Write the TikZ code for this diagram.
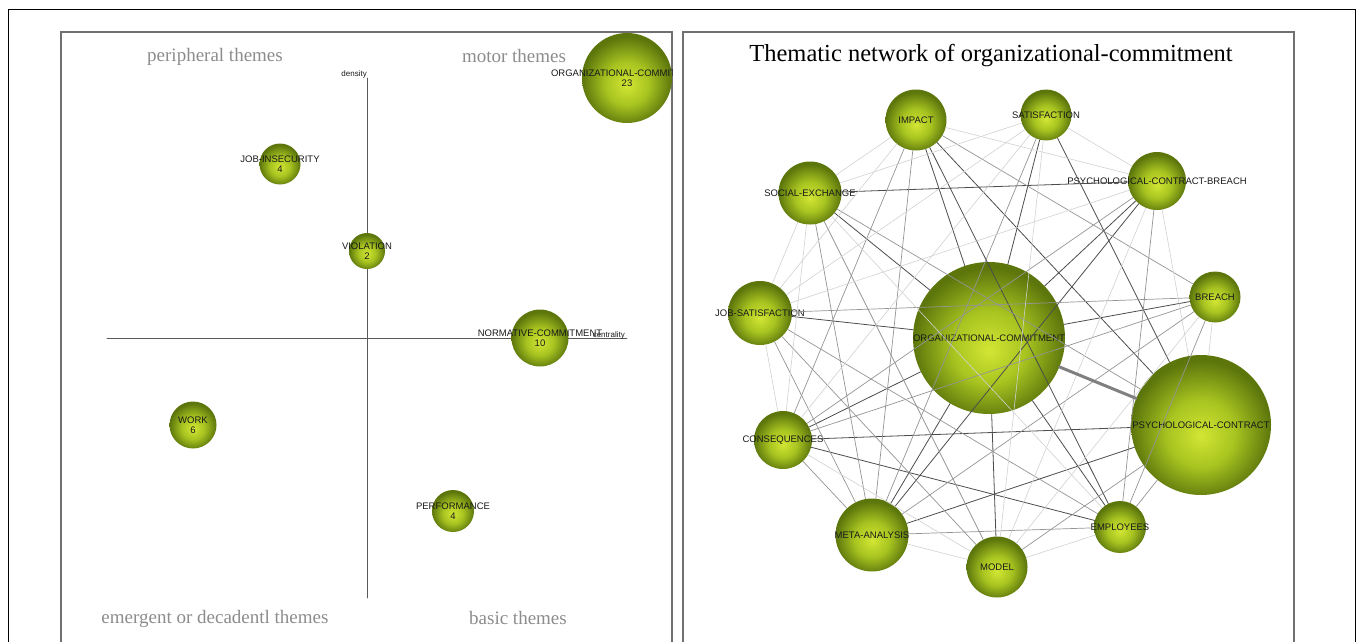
\documentclass[tikz,border=0pt]{standalone}
\usepackage{fontspec}
\setmainfont{Liberation Serif}
\setsansfont{Liberation Sans}
\usepackage{xcolor}
\usetikzlibrary{calc}
\definecolor{bubin}{RGB}{210,230,52}
\definecolor{bubmid}{RGB}{168,196,32}
\definecolor{bubout}{RGB}{92,118,12}
\definecolor{framegray}{RGB}{112,112,112}
\definecolor{themegray}{RGB}{140,140,140}
\pgfdeclareradialshading{bubble}{\pgfpoint{0bp}{-4bp}}{color(0bp)=(bubin); color(12bp)=(bubmid); color(25bp)=(bubout); color(50bp)=(bubout)}

\begin{document}
\begin{tikzpicture}[x=1pt,y=-1pt,line cap=round,
  bubble/.style={circle,draw=none,inner sep=0pt,shading=bubble,minimum size=#1pt},
  lbl/.style={font=\sffamily\fontsize{9.5}{10.5}\selectfont,text=black!90,align=center,inner sep=0pt},
  theme/.style={font=\fontsize{19}{20}\selectfont,text=themegray},
  panel/.style={draw=framegray,line width=1.4pt},
  axis/.style={draw=black!65,line width=0.9pt},
  darkedge/.style={draw=black!70,line width=0.8pt},
  midedge/.style={draw=black!42,line width=0.7pt},
  lightedge/.style={draw=black!18,line width=0.6pt},
  heavyedge/.style={draw=black!50,line width=3pt}]
\useasboundingbox (0,0) rectangle (1357,642);
\clip (0,0) rectangle (1357,642);
        % outer frame and the two panels
        \draw[black,line width=1pt] (8,660) -- (8,10) -- (1355,10) -- (1355,660);
        \draw[panel] (61,660) -- (61,32) -- (672,32) -- (672,660);
        \draw[panel] (683,660) -- (683,32) -- (1294,32) -- (1294,660);

% strategic diagram (left panel)
\begin{scope}
        \clip (61,32) rectangle (672,660);
        % quadrant names
        \node[theme] (periph) at (215,57) {peripheral themes};
        \node[theme] (motor) at (514,56) {motor themes};
        \node[theme] (emerg) at (215,619) {emergent or decadentl themes};
        \node[theme] (basic) at (518,618) {basic themes};
        % the two axes
        \coordinate (dtop) at (367,78);
        \coordinate (dbot) at (367,598);
        \coordinate (cleft) at (107,338);
        \coordinate (cright) at (627,338);
        \draw[axis] (dtop) -- (dbot);
        \draw[axis] (cleft) -- (cright);
        \node[lbl,anchor=south east,font=\sffamily\fontsize{8}{9}\selectfont] (dens) at (dtop) {density};
        \node[lbl,anchor=south east,font=\sffamily\fontsize{8}{9}\selectfont] (centr) at (625,339) {centrality};
        % themes with their number of documents
        \foreach \name/\x/\y/\d/\txt/\n in {
            qorg/627/78/90/ORGANIZATIONAL-COMMITMENT/23,
            qjob/280/164/41/JOB-INSECURITY/4,
            qvio/367/251/36/VIOLATION/2,
            qnor/540/338/57/NORMATIVE-COMMITMENT/10,
            qwork/193/425/47/WORK/6,
            qperf/453/511/42/PERFORMANCE/4}
                \node[bubble=\d,label={[lbl]center:\txt\\\n}] (\name) at (\x,\y) {};
\end{scope}

% thematic network (right panel)
        \node[font=\fontsize{24.5}{26}\selectfont] (title) at (991,56) {Thematic network of organizational-commitment};
        \foreach \name/\x/\y/\d/\txt in {
            imp/916/120/61/IMPACT,
            sat/1046/115/51/SATISFACTION,
            pcb/1157/181/58/PSYCHOLOGICAL-CONTRACT-BREACH,
            soc/810/193/63/SOCIAL-EXCHANGE,
            jsat/760/313/64/JOB-SATISFACTION,
            brc/1215/297/51/BREACH,
            oc/989/338/152/ORGANIZATIONAL-COMMITMENT,
            pc/1201/425/140/PSYCHOLOGICAL-CONTRACT,
            cons/783/440/58/CONSEQUENCES,
            meta/872/535/73/META-ANALYSIS,
            mod/997/567/61/MODEL,
            emp/1120/527/52/EMPLOYEES}
                \node[bubble=\d,label={[lbl]center:\txt}] (\name) at (\x,\y) {};
        % strong links
        \foreach \a/\b in {imp/oc,imp/pc,imp/emp,soc/oc,jsat/oc,pcb/oc,pcb/meta,oc/meta,
            oc/mod,oc/emp,oc/cons,cons/emp,sat/pc,sat/oc,soc/pcb,brc/oc,meta/pc,cons/pc}
                \draw[darkedge] (\a) -- (\b);
        % medium links
        \foreach \a/\b in {imp/brc,imp/meta,sat/meta,soc/pc,soc/meta,soc/mod,jsat/brc,jsat/emp,
            brc/cons,brc/meta,cons/meta,meta/emp,mod/pc,emp/pc,pcb/cons,imp/cons,jsat/mod,
            jsat/meta,pcb/emp,brc/emp}
                \draw[midedge] (\a) -- (\b);
        % weak links
        \foreach \a/\b in {sat/pcb,imp/pcb,imp/soc,soc/jsat,jsat/cons,cons/mod,meta/mod,mod/emp,
            sat/soc,sat/jsat,sat/mod,pcb/mod,brc/pc,brc/mod,jsat/pcb,pcb/pc,imp/jsat,sat/cons,
            soc/cons,soc/emp}
                \draw[lightedge] (\a) -- (\b);
        % the heaviest link
        \draw[heavyedge] (oc) -- (pc);
\end{tikzpicture}
\end{document}
